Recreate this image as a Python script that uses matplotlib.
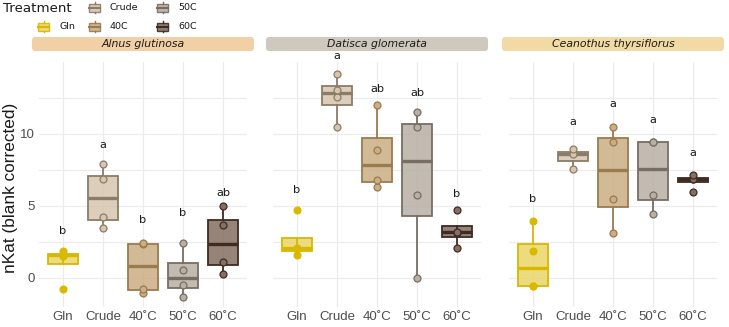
import matplotlib
matplotlib.use("Agg")
import matplotlib.pyplot as plt
import numpy as np
from matplotlib.patches import FancyBboxPatch, Rectangle
from matplotlib.lines import Line2D
import matplotlib.transforms as mtransforms

# ---------------- data ----------------
treatments = ["Gln", "Crude", "40C", "50C", "60C"]
tick_labels = ["Gln", "Crude", "40˚C", "50˚C", "60˚C"]
species = ["Alnus glutinosa", "Datisca glomerata", "Ceanothus thyrsiflorus"]

alnus_gln = [-0.79, 1.50, 1.60, 1.85]
alnus_crude = [3.43, 4.24, 6.83, 7.87]
alnus_40 = [-1.05, -0.76, 2.35, 2.40]
alnus_50 = [-1.32, -0.51, 0.53, 2.38]
alnus_60 = [0.28, 1.06, 3.68, 5.00]

datisca_gln = [1.55, 2.00, 2.10, 4.68]
datisca_crude = [10.44, 12.55, 13.06, 14.12]
datisca_40 = [6.27, 6.81, 8.89, 12.01]
datisca_50 = [0.00, 5.74, 10.44, 11.50]
datisca_60 = [2.08, 3.10, 3.20, 4.72]

ceanothus_gln = [-0.56, -0.56, 1.86, 3.91]
ceanothus_crude = [7.57, 8.61, 8.91]
ceanothus_40 = [3.13, 5.49, 9.42, 10.44]
ceanothus_50 = [4.44, 5.74, 9.40, 9.44]
ceanothus_60 = [5.97, 6.83, 6.85, 7.10]

alnus_letters = ["b", "a", "b", "b", "ab"]
alnus_letter_y = [3.26, 9.21, 4.00, 4.47, 5.86]
datisca_letters = ["b", "a", "ab", "ab", "b"]
datisca_letter_y = [6.06, 15.37, 13.13, 12.82, 5.83]
ceanothus_letters = ["b", "a", "a", "a", "a"]
ceanothus_letter_y = [5.49, 10.81, 12.08, 10.97, 8.68]

panel_data = [
    [alnus_gln, alnus_crude, alnus_40, alnus_50, alnus_60],
    [datisca_gln, datisca_crude, datisca_40, datisca_50, datisca_60],
    [ceanothus_gln, ceanothus_crude, ceanothus_40, ceanothus_50, ceanothus_60],
]
panel_letters = [alnus_letters, datisca_letters, ceanothus_letters]
panel_letter_y = [alnus_letter_y, datisca_letter_y, ceanothus_letter_y]

# ---------------- style ----------------
fills = ["#EAD56A", "#D6C6AE", "#CCAE84", "#B8AFA5", "#846F62"]
edges = ["#D9B800", "#8C7B68", "#9A7B50", "#786D63", "#3F2B21"]
strip_colors = ["#F2D0A6", "#CFC8BF", "#F1DAA4"]
arial = ["Liberation Sans", "DejaVu Sans"]

W, H = 729, 327
fig = plt.figure(figsize=(W / 100, H / 100), dpi=100)
fig.patch.set_facecolor("white")

panel_left_px = [39, 273, 509]
panel_w_px = 208
strip_ext = 7
top_px, bot_px = 62, 307
grid_c = "#EBEBEB"

def fx(px):
    return px / W

def fy(py):
    return 1 - py / H

for p in range(3):
    ax = fig.add_axes([fx(panel_left_px[p]), fy(bot_px), panel_w_px / W, (bot_px - top_px) / H])
    for s in ax.spines.values():
        s.set_visible(False)

    data = panel_data[p]
    for i, vals in enumerate(data):
        v = np.asarray(vals, float)
        q1, med, q3 = np.percentile(v, [25, 50, 75])
        iqr = q3 - q1
        lo = v[v >= q1 - 1.5 * iqr].min()
        hi = v[v <= q3 + 1.5 * iqr].max()
        stats = [dict(med=med, q1=q1, q3=q3, whislo=lo, whishi=hi, fliers=[])]
        ax.bxp(stats, positions=[i], widths=0.75, showfliers=False, showcaps=False,
               patch_artist=True, manage_ticks=False,
               boxprops=dict(facecolor=fills[i], edgecolor=edges[i], lw=1.3),
               medianprops=dict(color=edges[i], lw=2.4, solid_capstyle="butt"),
               whiskerprops=dict(color=edges[i], lw=1.3))
        if i == 0:
            ax.plot([i] * len(v), v, "o", ms=5, mfc=edges[i], mec=edges[i], mew=0.8, zorder=5)
        else:
            ax.plot([i] * len(v), v, "o", ms=5, mfc=fills[i], mec=edges[i], mew=0.9, zorder=5)
        ax.text(i, panel_letter_y[p][i], panel_letters[p][i], ha="center", va="center",
                fontsize=8.2, color="#1A1A1A", clip_on=False)

    ax.set_xlim(-0.6, 4.6)
    ax.set_ylim(-2.03, 14.98)
    ax.set_yticks([0, 5, 10])
    ax.set_yticks([2.5, 7.5, 12.5], minor=True)
    ax.grid(True, which="major", color=grid_c, lw=0.8)
    ax.grid(True, which="minor", axis="y", color=grid_c, lw=0.8)
    ax.set_axisbelow(True)
    ax.set_xticks(range(5))
    ax.set_xticklabels(tick_labels, fontsize=9.5, color="#4D4D4D", family=arial)
    ax.tick_params(length=0, pad=3)
    ax.tick_params(which="minor", length=0)
    if p == 0:
        ax.set_yticklabels(["0", "5", "10"], fontsize=9.5, color="#4D4D4D", family=arial)
    else:
        ax.set_yticklabels([])

    # strip
    sl = panel_left_px[p] - strip_ext
    strip = FancyBboxPatch((sl, H - 51), panel_w_px + 2 * strip_ext, 14,
                           boxstyle="round,pad=0,rounding_size=3",
                           transform=mtransforms.IdentityTransform(),
                           facecolor=strip_colors[p], edgecolor="none")
    fig.add_artist(strip)
    fig.text(fx(panel_left_px[p] + panel_w_px / 2), fy(44), species[p], ha="center", va="center",
             fontsize=7.8, style="italic", color="#1A1A1A")

fig.text(fx(11), fy(188), "nKat (blank corrected)", rotation=90, ha="center", va="center",
         fontsize=12.4, color="#1A1A1A", family=arial)

# lighter box faces
for ax in fig.axes:
    for patch in ax.patches:
        fc = patch.get_facecolor()
        patch.set_facecolor((fc[0], fc[1], fc[2], 0.85))

# ---------------- legend ----------------
fig.text(fx(3), fy(9), "Treatment", ha="left", va="center", fontsize=9.6, color="#1A1A1A")
legend_items = [(1, 89, 7.5, "Crude"), (3, 157, 7.5, "50C"),
                (0, 38, 26.5, "Gln"), (2, 89, 26.5, "40C"), (4, 157, 26.5, "60C")]
ident = mtransforms.IdentityTransform()
for idx, x0, yc, lab in legend_items:
    kw, kh = 11, 8
    rect = Rectangle((x0, H - yc - kh / 2), kw, kh, transform=ident,
                     facecolor=fills[idx], edgecolor=edges[idx], lw=1.0, alpha=0.9)
    fig.add_artist(rect)
    fig.add_artist(Line2D([x0, x0 + kw], [H - yc, H - yc], transform=ident, color=edges[idx], lw=1.5))
    fig.add_artist(Line2D([x0 + kw / 2, x0 + kw / 2], [H - yc + kh / 2, H - yc + kh / 2 + 1.5],
                          transform=ident, color=edges[idx], lw=1))
    fig.add_artist(Line2D([x0 + kw / 2, x0 + kw / 2], [H - yc - kh / 2, H - yc - kh / 2 - 1.5],
                          transform=ident, color=edges[idx], lw=1))
    fig.text(fx(x0 + 21), fy(yc), lab, ha="left", va="center", fontsize=6.8, color="#1A1A1A")

fig.savefig("out.png", dpi=100, facecolor="white")
